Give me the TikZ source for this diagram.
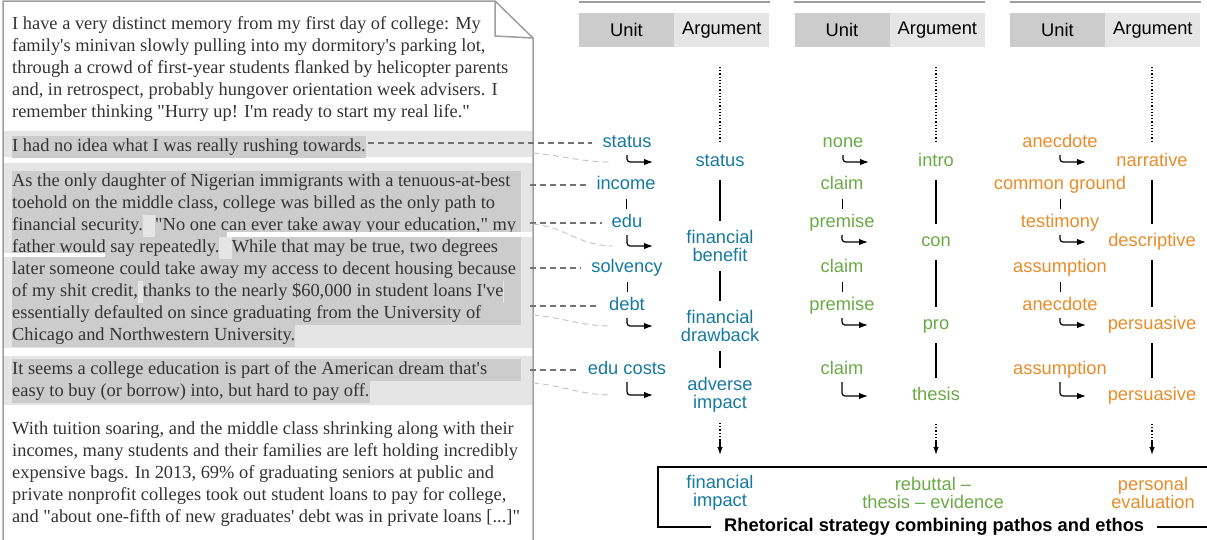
\documentclass[tikz,border=0pt]{standalone}
\usepackage{fontspec}
\setmainfont{Liberation Sans}
\newfontfamily\txtfont{Liberation Serif}
\usetikzlibrary{positioning,calc,arrows.meta}

\definecolor{hllight}{gray}{0.90}
\definecolor{hldark}{gray}{0.80}
\definecolor{pageline}{gray}{0.62}
\definecolor{cblue}{RGB}{22,122,160}
\definecolor{cgreen}{RGB}{106,170,70}
\definecolor{corange}{RGB}{232,140,42}

\begin{document}
\begin{tikzpicture}[x=1pt,y=-1pt,
  txtline/.style={font=\txtfont\fontsize{18.4pt}{22pt}\selectfont, text=black!80, inner sep=0pt, anchor=base west, text height=15.5pt, text depth=6.5pt},
  hl/.style={fill=hldark},
  lbl/.style={font=\fontsize{18.3pt}{17.5pt}\selectfont, inner sep=0pt, text height=13pt, text depth=4pt},
  lbl2/.style={font=\fontsize{18.3pt}{17.5pt}\selectfont, inner sep=0pt, align=center},
  unitcell/.style={fill=hldark, minimum width=95pt, minimum height=34pt, inner sep=0pt, font=\fontsize{18.3pt}{20pt}\selectfont},
  argcell/.style={unitcell, fill=hllight},
  topline/.style={pageline, line width=2pt},
  hookarr/.style={line width=1.2pt, rounded corners=3pt, -{Latex[length=9pt,width=6.5pt]}},
  argline/.style={line width=1.2pt, shorten <=9.5pt, shorten >=9.5pt},
  unittick/.style={line width=0.9pt, shorten <=5pt, shorten >=5pt},
  dotline/.style={line width=1.2pt, dotted},
  downarr/.style={line width=1.2pt, -{Latex[length=8pt,width=5.5pt]}},
  linkdash/.style={black!55, line width=1.1pt, dash pattern=on 6pt off 4pt, shorten >=10pt},
  linkcurve/.style={black!22, line width=1pt, dash pattern=on 6pt off 4pt},
  boxline/.style={line width=1.2pt},
]
\useasboundingbox (0,0) rectangle (1207,539);

%% the essay page
\fill[white] (3,545) -- (3,1) -- (495,1) -- (533,38) -- (533,545) -- cycle;
\fill[hllight] (4,131) rectangle (532,157);
\fill[hllight] (4,163) rectangle (532,348);
\fill[hllight] (4,356) rectangle (532,405);

\coordinate (rm) at (521,0);
\coordinate (pe) at (530,0);

% full rows of highlighted sentences
\fill[hldark] (12,170.5) rectangle (521,192.5);
\fill[hldark] (12,192.5) rectangle (521,214.5);
\fill[hldark] (12,258.5) rectangle (521,280.5);
\fill[hldark] (12,302.5) rectangle (521,324.5);
\fill[hldark] (12,358.5) rectangle (521,380.5);

\node[txtline] (p1) at (12,29) {I have a very distinct memory from my first day of college: My};
\node[txtline] (p2) at (12,51) {family's minivan slowly pulling into my dormitory's parking lot,};
\node[txtline] (p3) at (12,73) {through a crowd of first-year students flanked by helicopter parents};
\node[txtline] (p4) at (12,95) {and, in retrospect, probably hungover orientation week advisers. I};
\node[txtline] (p5) at (12,117) {remember thinking "Hurry up! I'm ready to start my real life."};

\node[txtline,hl] (s0) at (12,151) {I had no idea what I was really rushing towards.};

\node[txtline] (r1) at (12,186) {As the only daughter of Nigerian immigrants with a tenuous-at-best};
\node[txtline] (r2) at (12,208) {toehold on the middle class, college was billed as the only path to};
\node[txtline,hl] (r3a) at (12,230) {financial security.};
\node[txtline,hl,right=12pt of r3a.base east,anchor=base west] (r3b) {"No one can ever take away your education," my};
\node[txtline,hl] (r4a) at (12,252) {father would say repeatedly.};
\node[txtline,hl,right=12pt of r4a.base east,anchor=base west] (r4b) {While that may be true, two degrees};
\node[txtline] (r5) at (12,274) {later someone could take away my access to decent housing because};
\node[txtline,hl] (r6a) at (12,296) {of my shit credit,};
\node[txtline,hl,right=4.6pt of r6a.base east,anchor=base west] (r6b) {thanks to the nearly \$60,000 in student loans I've};
\node[txtline] (r7) at (12,318) {essentially defaulted on since graduating from the University of};
\node[txtline,hl] (r8) at (12,340) {Chicago and Northwestern University.};

\fill[hldark] (r3b.north east) rectangle (rm |- r3b.south);
\fill[hldark] (r4b.north east) rectangle (rm |- r4b.south);
\fill[hldark] (r6b.north east) rectangle (rm |- r6b.south);
\fill[white] (227,232) rectangle (532,236.5);
\fill[white] (4,253) rectangle (105,257);

\node[txtline] (e1) at (12,374) {It seems a college education is part of the American dream that's};
\node[txtline,hl] (e2) at (12,396) {easy to buy (or borrow) into, but hard to pay off.};

\node[txtline] (q1) at (12,434) {With tuition soaring, and the middle class shrinking along with their};
\node[txtline] (q2) at (12,456) {incomes, many students and their families are left holding incredibly};
\node[txtline] (q3) at (12,478) {expensive bags. In 2013, 69\% of graduating seniors at public and};
\node[txtline] (q4) at (12,500) {private nonprofit colleges took out student loans to pay for college,};
\node[txtline] (q5) at (12,522) {and "about one-fifth of new graduates' debt was in private loans [...]"};

\draw[pageline, line width=1.5pt] (3,545) -- (3,1) -- (495,1) -- (533,38) -- (533,545);
\draw[pageline, line width=1.5pt] (495,1) -- (495,36) -- (533,38);

%% headers
\node[unitcell] (h1u) at (626.5,30) {Unit};
\node[argcell, right=0pt of h1u] (h1a) {Argument};
\node[unitcell] (h2u) at (842,30) {Unit};
\node[argcell, right=0pt of h2u] (h2a) {Argument};
\node[unitcell] (h3u) at (1057.5,30) {Unit};
\node[argcell, right=0pt of h3u] (h3a) {Argument};
\draw[topline] ([yshift=11pt]h1u.north west) -- ([yshift=11pt]h1a.north east);
\draw[topline] ([yshift=11pt]h2u.north west) -- ([yshift=11pt]h2a.north east);
\draw[topline] ([yshift=11pt]h3u.north west) -- ([yshift=11pt]h3a.north east);

%% units and arguments
\node[lbl,cblue] (u11) at (627,143) {status};
\node[lbl,cblue] (u12) at (626,185) {income};
\node[lbl,cblue] (u13) at (627,223) {edu};
\node[lbl,cblue] (u14) at (627,268) {solvency};
\node[lbl,cblue] (u15) at (627,306) {debt};
\node[lbl,cblue] (u16) at (627,370) {edu costs};
\node[lbl,cblue] (a11) at (720,162) {status};
\node[lbl2,cblue] (a12) at (720,246) {financial\\benefit};
\node[lbl2,cblue] (a13) at (720,326) {financial\\drawback};
\node[lbl2,cblue] (a14) at (720,395) {adverse\\impact};

\node[lbl,cgreen] (u21) at (843,143) {none};
\node[lbl,cgreen] (u22) at (842,185) {claim};
\node[lbl,cgreen] (u23) at (842,223) {premise};
\node[lbl,cgreen] (u24) at (842,268) {claim};
\node[lbl,cgreen] (u25) at (842,306) {premise};
\node[lbl,cgreen] (u26) at (842,370) {claim};
\node[lbl,cgreen] (a21) at (936,162) {intro};
\node[lbl,cgreen] (a22) at (936,242) {con};
\node[lbl,cgreen] (a23) at (936,325) {pro};
\node[lbl,cgreen] (a24) at (936,396) {thesis};

\node[lbl,corange] (u31) at (1060,143) {anecdote};
\node[lbl,corange] (u32) at (1060,185) {common ground};
\node[lbl,corange] (u33) at (1060,223) {testimony};
\node[lbl,corange] (u34) at (1060,268) {assumption};
\node[lbl,corange] (u35) at (1060,306) {anecdote};
\node[lbl,corange] (u36) at (1060,370) {assumption};
\node[lbl,corange] (a31) at (1152,162) {narrative};
\node[lbl,corange] (a32) at (1152,242) {descriptive};
\node[lbl,corange] (a33) at (1152,325) {persuasive};
\node[lbl,corange] (a34) at (1152,396) {persuasive};

%% links from the text
\draw[linkdash] ([xshift=2pt]s0.east |- u11.west) -- (u11.west);
\draw[linkdash] (pe |- u12.west) -- (u12.west);
\draw[linkdash] (pe |- u13.west) -- (u13.west);
\draw[linkdash] (pe |- u14.west) -- (u14.west);
\draw[linkdash] (pe |- u15.west) -- (u15.west);
\draw[linkdash] (pe |- u16.west) -- (u16.west);

\coordinate (c1) at (533,153);
\coordinate (c2) at (533,224);
\coordinate (c3) at (533,315);
\coordinate (c4) at (533,383);
\draw[linkcurve] (c1) to[out=-5,in=180] ($(u11.south |- a11)+(-15,0)$);
\draw[linkcurve] (c2) to[out=-5,in=180] ($(u13.south |- a12)+(-15,0)$);
\draw[linkcurve] (c3) to[out=-5,in=180] ($(u15.south |- a13)+(-15,0)$);
\draw[linkcurve] (c4) to[out=-5,in=180] ($(u16.south |- a14)+(-15,0)$);

%% hooks
\draw[hookarr] ([yshift=-3.5pt]u11.south) |- ($(u11.south |- a11)+(26,0)$);
\draw[hookarr] ([yshift=-3.5pt]u13.south) |- ($(u13.south |- a12)+(26,0)$);
\draw[hookarr] ([yshift=-3.5pt]u15.south) |- ($(u15.south |- a13)+(26,0)$);
\draw[hookarr] ([yshift=-3.5pt]u16.south) |- ($(u16.south |- a14)+(26,0)$);
\draw[hookarr] ([yshift=-3.5pt]u21.south) |- ($(u21.south |- a21)+(26,0)$);
\draw[hookarr] ([yshift=-3.5pt]u23.south) |- ($(u23.south |- a22)+(26,0)$);
\draw[hookarr] ([yshift=-3.5pt]u25.south) |- ($(u25.south |- a23)+(26,0)$);
\draw[hookarr] ([yshift=-3.5pt]u26.south) |- ($(u26.south |- a24)+(26,0)$);
\draw[hookarr] ([yshift=-3.5pt]u31.south) |- ($(u31.south |- a31)+(26,0)$);
\draw[hookarr] ([yshift=-3.5pt]u33.south) |- ($(u33.south |- a32)+(26,0)$);
\draw[hookarr] ([yshift=-3.5pt]u35.south) |- ($(u35.south |- a33)+(26,0)$);
\draw[hookarr] ([yshift=-3.5pt]u36.south) |- ($(u36.south |- a34)+(26,0)$);

%% ticks between units
\draw[unittick] (u12.south) -- (u12.south |- u13.north);
\draw[unittick] (u14.south) -- (u14.south |- u15.north);
\draw[unittick] (u22.south) -- (u22.south |- u23.north);
\draw[unittick] (u24.south) -- (u24.south |- u25.north);
\draw[unittick] (u32.south) -- (u32.south |- u33.north);
\draw[unittick] (u34.south) -- (u34.south |- u35.north);

%% argument chains
\draw[argline] (a11) -- (a12);
\draw[argline] (a12) -- (a13);
\draw[argline] (a13) -- (a14);
\draw[argline] (a21) -- (a22);
\draw[argline] (a22) -- (a23);
\draw[argline] (a23) -- (a24);
\draw[argline] (a31) -- (a32);
\draw[argline] (a32) -- (a33);
\draw[argline] (a33) -- (a34);

\coordinate (t1) at (720,67);
\coordinate (t2) at (936,67);
\coordinate (t3) at (1152,67);
\draw[dotline, shorten >=11.5pt] (t1) -- (a11);
\draw[dotline, shorten >=11.5pt] (t2) -- (a21);
\draw[dotline, shorten >=11.5pt] (t3) -- (a31);

%% strategy box
\node[lbl2,cblue] (b1) at (720,493) {financial\\impact};
\node[lbl2,cgreen] (b2) at (933,493) {rebuttal --\\thesis -- evidence};
\node[lbl2,corange] (b3) at (1153,493) {personal\\evaluation};

\coordinate (d1) at (720,440);
\coordinate (d2) at (936,440);
\coordinate (d3) at (1152,440);
\draw[dotline, shorten <=28pt] (a14.center) -- (d1);
\draw[dotline, shorten <=28pt] (a24.center) -- (d2);
\draw[dotline, shorten <=28pt] (a34.center) -- (d3);
\draw[downarr] (d1) -- (d1 |- 0,455);
\draw[downarr] (d2) -- (d2 |- 0,455);
\draw[downarr] (d3) -- (d3 |- 0,455);

\coordinate (bl) at (658,527);
\coordinate (tr) at (1207,467);
\node[lbl, font=\bfseries\fontsize{18.3pt}{20pt}\selectfont, anchor=west] (cap) at (724,527) {Rhetorical strategy combining pathos and ethos};
\draw[boxline] ([xshift=-13pt]cap.west) -- (bl) |- (tr);
\draw[boxline] ([xshift=13pt]cap.east) -- (cap.east -| tr);
\end{tikzpicture}
\end{document}
